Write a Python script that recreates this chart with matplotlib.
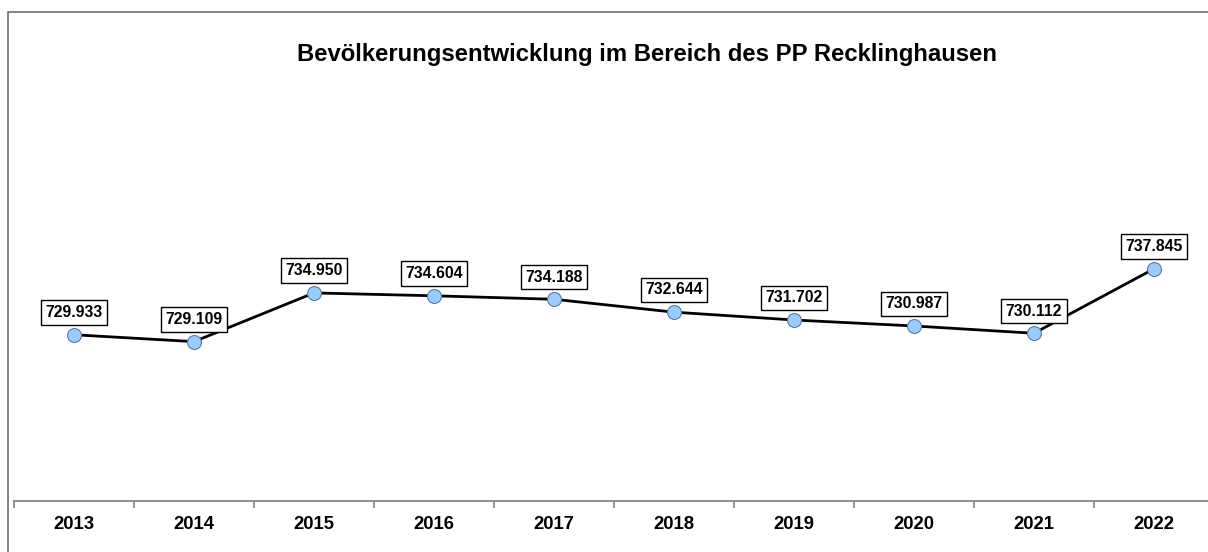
import matplotlib
matplotlib.use("Agg")
import matplotlib.pyplot as plt
from matplotlib.patches import Rectangle

years = ["2013", "2014", "2015", "2016", "2017", "2018", "2019", "2020", "2021", "2022"]
population = [729.933, 729.109, 734.950, 734.604, 734.188, 732.644, 731.702, 730.987, 730.112, 737.845]
labels = ["729.933", "729.109", "734.950", "734.604", "734.188", "732.644", "731.702", "730.987", "730.112", "737.845"]
title = "Bevölkerungsentwicklung im Bereich des PP Recklinghausen"

W, H = 1208, 552
fig = plt.figure(figsize=(W / 100, H / 100), dpi=100)
plt.rcParams['font.family'] = ['Liberation Sans', 'DejaVu Sans']

# outer border
fig.patches.append(Rectangle((8 / W, -0.1), 1.5, (H - 12) / H + 0.1, transform=fig.transFigure,
                             fill=False, edgecolor="#6e6e6e", linewidth=1.2))

left, right = 14 / W, 1214 / W
bottom, top = (H - 501) / H, (H - 84) / H
ax = fig.add_axes([left, bottom, right - left, top - bottom])
ax.set_facecolor("none")

x = list(range(len(years)))
ax.plot(x, population, color="black", linewidth=2.0, marker="o", markersize=10,
        markerfacecolor="#99CCFF", markeredgecolor="#5a7aa0", markeredgewidth=0.8, zorder=3)

for xi, yi, lab in zip(x, population, labels):
    ax.annotate(lab, (xi, yi), xytext=(0, 16), textcoords="offset points",
                ha="center", va="center", fontsize=11.3, fontweight="bold",
                bbox=dict(boxstyle="square,pad=0.3", facecolor="white", edgecolor="black", linewidth=1.0))

ax.set_xlim(-0.5, len(years) - 0.5)
ax.set_ylim(710, 760)
ax.set_yticks([])
ax.set_xticks([i - 0.5 for i in range(len(years) + 1)], minor=False)
ax.set_xticklabels([])
ax.set_xticks(x, minor=True)
ax.set_xticklabels(years, minor=True, fontsize=13.3, fontweight="bold")
ax.tick_params(axis="x", which="major", length=5, width=1.2, color="#808080", direction="out")
ax.tick_params(axis="x", which="minor", length=0, pad=11)
for s in ["top", "right", "left"]:
    ax.spines[s].set_visible(False)
ax.spines["bottom"].set_color("#909090")
ax.spines["bottom"].set_linewidth(1.5)

fig.text(647 / W, (H - 55) / H, title, ha="center", va="center", fontsize=17.2, fontweight="bold")

fig.savefig("out.png", dpi=100)
